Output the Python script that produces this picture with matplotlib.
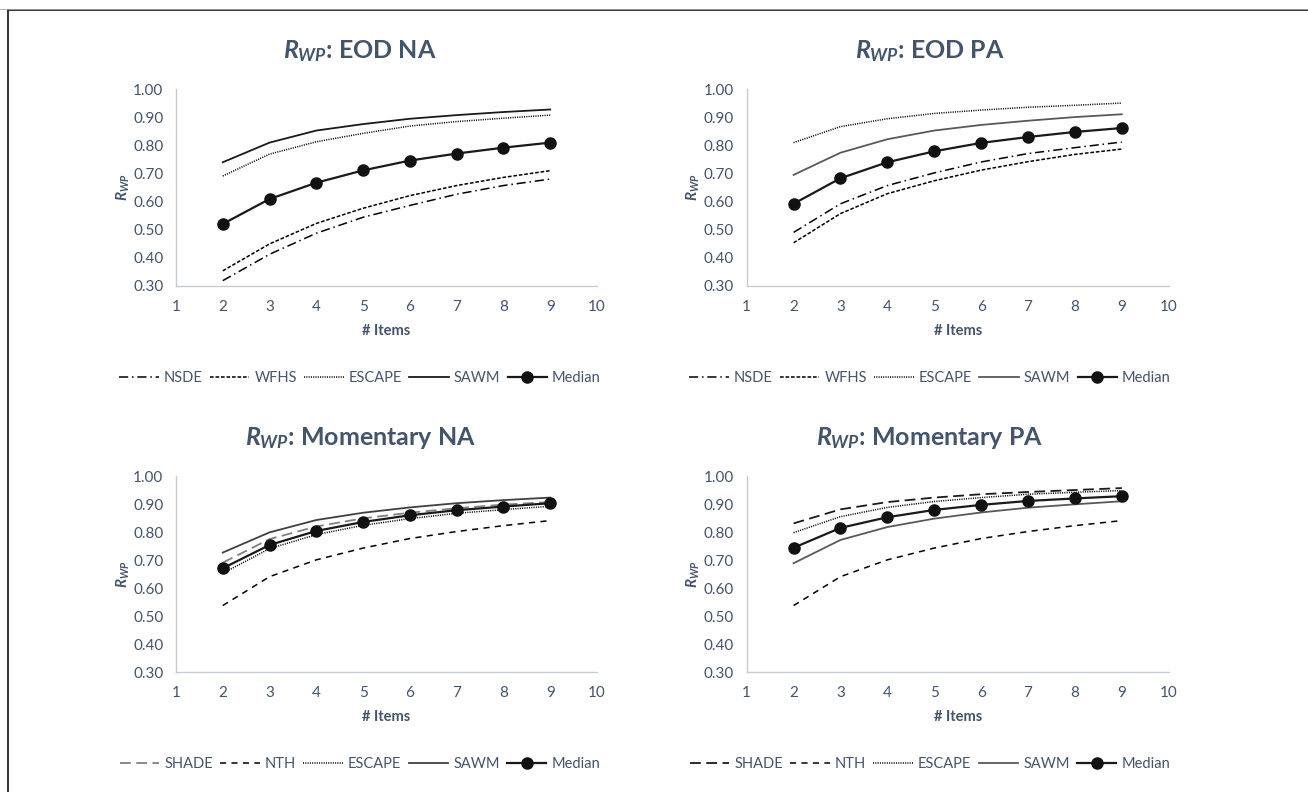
import matplotlib
matplotlib.use('Agg')
import matplotlib.pyplot as plt
from matplotlib.lines import Line2D

plt.rcParams['font.family'] = ['Lato', 'DejaVu Sans']
plt.rcParams['mathtext.fontset'] = 'custom'
plt.rcParams['mathtext.it'] = 'Lato:italic:bold'
plt.rcParams['mathtext.rm'] = 'Lato:bold'
plt.rcParams['mathtext.bf'] = 'Lato:bold'

items = [2, 3, 4, 5, 6, 7, 8, 9]
x_ticks = [1, 2, 3, 4, 5, 6, 7, 8, 9, 10]
y_ticks = [0.30, 0.40, 0.50, 0.60, 0.70, 0.80, 0.90, 1.00]

# EOD NA
eod_na_nsde = [0.318, 0.412, 0.487, 0.544, 0.586, 0.626, 0.657, 0.680]
eod_na_wfhs = [0.353, 0.449, 0.522, 0.576, 0.621, 0.657, 0.686, 0.710]
eod_na_escape = [0.691, 0.769, 0.813, 0.843, 0.869, 0.885, 0.897, 0.908]
eod_na_sawm = [0.740, 0.810, 0.853, 0.876, 0.895, 0.908, 0.919, 0.928]
eod_na_median = [0.520, 0.609, 0.667, 0.711, 0.746, 0.771, 0.792, 0.810]

# EOD PA
eod_pa_nsde = [0.490, 0.592, 0.657, 0.702, 0.741, 0.771, 0.792, 0.812]
eod_pa_wfhs = [0.453, 0.557, 0.628, 0.674, 0.712, 0.742, 0.768, 0.787]
eod_pa_escape = [0.810, 0.867, 0.895, 0.914, 0.926, 0.936, 0.943, 0.951]
eod_pa_sawm = [0.695, 0.774, 0.822, 0.853, 0.873, 0.888, 0.901, 0.911]
eod_pa_median = [0.592, 0.683, 0.740, 0.779, 0.809, 0.830, 0.848, 0.862]

# Momentary NA
mom_na_shade = [0.691, 0.775, 0.820, 0.849, 0.869, 0.885, 0.898, 0.907]
mom_na_nth = [0.538, 0.641, 0.701, 0.743, 0.777, 0.802, 0.823, 0.841]
mom_na_escape = [0.653, 0.741, 0.791, 0.824, 0.848, 0.867, 0.880, 0.892]
mom_na_sawm = [0.727, 0.799, 0.843, 0.869, 0.888, 0.903, 0.914, 0.923]
mom_na_median = [0.671, 0.754, 0.804, 0.836, 0.860, 0.878, 0.891, 0.903]

# Momentary PA
mom_pa_shade = [0.831, 0.881, 0.907, 0.923, 0.935, 0.943, 0.950, 0.957]
mom_pa_nth = [0.538, 0.641, 0.701, 0.743, 0.777, 0.802, 0.823, 0.841]
mom_pa_escape = [0.798, 0.855, 0.888, 0.909, 0.923, 0.935, 0.942, 0.948]
mom_pa_sawm = [0.689, 0.772, 0.818, 0.848, 0.870, 0.887, 0.899, 0.910]
mom_pa_median = [0.744, 0.815, 0.853, 0.879, 0.897, 0.911, 0.920, 0.928]

TEXT = '#44546A'
SPINE = '#C5CCD6'
W, H = 1308, 792

fig = plt.figure(figsize=(W / 100, H / 100), dpi=100)

# border lines (left and top)
fig.add_artist(Line2D([8 / W, 8 / W], [0, 1 - 10 / H], transform=fig.transFigure, color='#222222', lw=1.3))
fig.add_artist(Line2D([8 / W, 1], [1 - 10 / H, 1 - 10 / H], transform=fig.transFigure, color='#222222', lw=1.3))
fig.add_artist(Line2D([0, 1], [1 - 9 / H, 1 - 9 / H], transform=fig.transFigure, color='#AAAAAA', lw=0.6))


def px_rect(left, right, top, bottom):
    return [left / W, 1 - bottom / H, (right - left) / W, (bottom - top) / H]


def style(lw=1.1, color='black', dashes=None, marker=None):
    d = dict(lw=lw, color=color)
    if dashes is not None:
        d['dashes'] = dashes
    if marker:
        d.update(marker='o', markersize=8, markerfacecolor='#111111', markeredgecolor='#111111')
    return d


DOT = (0.7, 0.8)

panels = [
    dict(rect=(176, 597, 89.3, 285.7), center=360, title='EOD NA',
         series=[('NSDE', eod_na_nsde, style(dashes=(6, 2.5, 1, 2.5))),
                 ('WFHS', eod_na_wfhs, style(dashes=(2.4, 1.2))),
                 ('ESCAPE', eod_na_escape, style(lw=1.1, dashes=DOT)),
                 ('SAWM', eod_na_sawm, style(lw=1.3, color='#1a1a1a')),
                 ('Median', eod_na_median, style(lw=1.6, color='#1a1a1a', marker=True))]),
    dict(rect=(746.7, 1168.7, 89.3, 285.7), center=930, title='EOD PA',
         series=[('NSDE', eod_pa_nsde, style(dashes=(6, 2.5, 1, 2.5))),
                 ('WFHS', eod_pa_wfhs, style(dashes=(2.4, 1.2))),
                 ('ESCAPE', eod_pa_escape, style(lw=1.1, dashes=DOT)),
                 ('SAWM', eod_pa_sawm, style(lw=1.3, color='#595959')),
                 ('Median', eod_pa_median, style(lw=1.6, color='#1a1a1a', marker=True))]),
    dict(rect=(176, 597, 476, 672.3), center=360, title='Momentary NA',
         series=[('SHADE', mom_na_shade, style(lw=1.3, color='#808080', dashes=(6, 3))),
                 ('NTH', mom_na_nth, style(dashes=(4, 3.5))),
                 ('ESCAPE', mom_na_escape, style(lw=1.1, dashes=DOT)),
                 ('SAWM', mom_na_sawm, style(lw=1.3, color='#404040')),
                 ('Median', mom_na_median, style(lw=1.6, color='#1a1a1a', marker=True))]),
    dict(rect=(746.7, 1168.7, 476, 672.3), center=930, title='Momentary PA',
         series=[('SHADE', mom_pa_shade, style(lw=1.3, color='#1a1a1a', dashes=(6, 3))),
                 ('NTH', mom_pa_nth, style(dashes=(4, 3.5))),
                 ('ESCAPE', mom_pa_escape, style(lw=1.1, dashes=DOT)),
                 ('SAWM', mom_pa_sawm, style(lw=1.3, color='#595959')),
                 ('Median', mom_pa_median, style(lw=1.6, color='#1a1a1a', marker=True))]),
]

for p in panels:
    left, right, top, bottom = p['rect']
    ax = fig.add_axes(px_rect(left, right, top, bottom))
    handles = []
    for name, vals, st in p['series']:
        ln, = ax.plot(items, vals, label=name, **st)
        handles.append(ln)
    ax.set_xlim(1, 10)
    ax.set_ylim(0.30, 1.00)
    ax.set_xticks(x_ticks)
    ax.set_yticks(y_ticks)
    ax.set_yticklabels([f'{v:.2f}' for v in y_ticks])
    ax.tick_params(length=0, labelsize=11, colors=TEXT, pad=9)
    ax.tick_params(axis='x', pad=10)
    for s in ['top', 'right']:
        ax.spines[s].set_visible(False)
    for s in ['left', 'bottom']:
        ax.spines[s].set_color(SPINE)
        ax.spines[s].set_linewidth(1.0)
    ax.patch.set_alpha(0)

    # title
    fig.text(p['center'] / W, 1 - (top - 38) / H, r'$R_{WP}$: ' + p['title'],
             ha='center', va='center', fontsize=18, fontweight='bold', color=TEXT)
    # x label
    fig.text((left + right) / 2 / W, 1 - (bottom + 45) / H, '# Items',
             ha='center', va='center', fontsize=10.5, fontweight='bold', color=TEXT)
    # y label
    fig.text((left - 53) / W, 1 - ((top + bottom) / 2) / H, r'$R_{WP}$',
             ha='center', va='center', rotation=90, fontsize=11, color=TEXT)
    # legend
    fig.legend(handles=handles, labels=[h.get_label() for h in handles],
               loc='center', bbox_to_anchor=(p['center'] / W, 1 - (bottom + 92) / H),
               ncol=5, frameon=False, fontsize=10.5, handlelength=2.7,
               handletextpad=0.35, columnspacing=0.5, labelcolor=TEXT)

fig.savefig('out.png', dpi=100, facecolor='white')
